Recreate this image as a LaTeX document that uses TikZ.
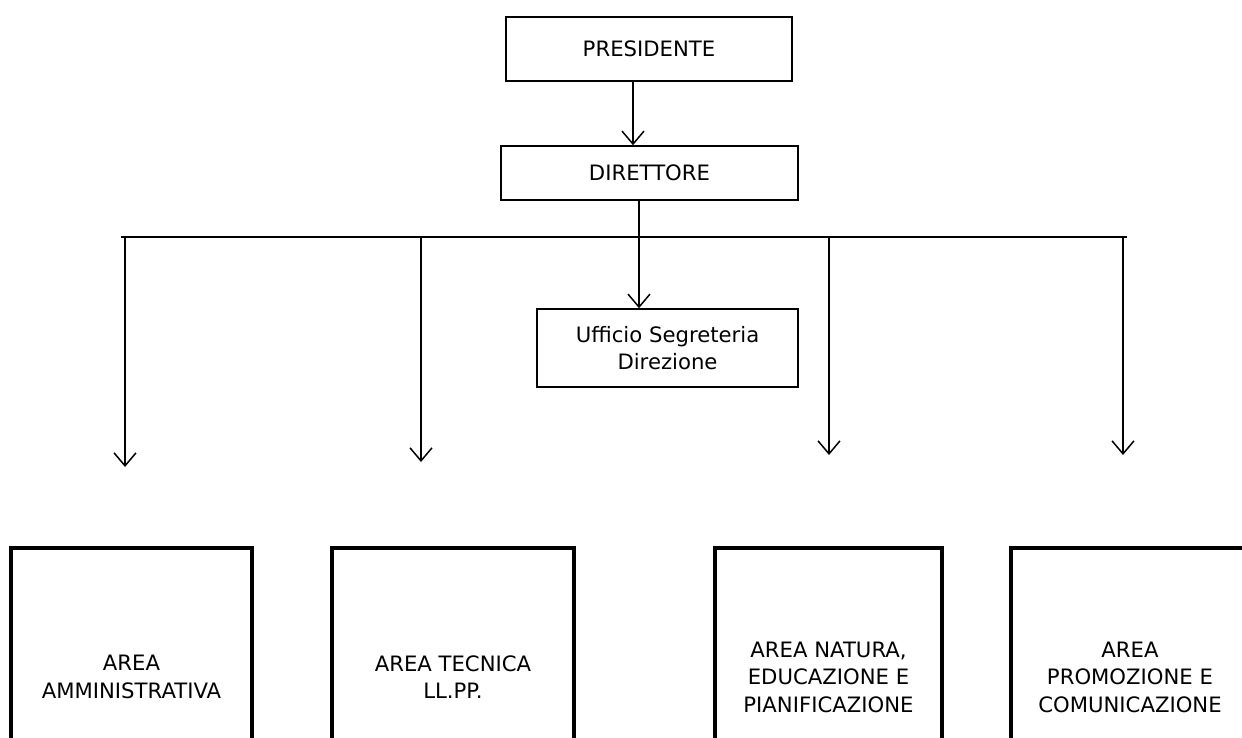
\documentclass[tikz,border=0pt]{standalone}
\usepackage{fontspec}
\setmainfont{DejaVu Sans}
\usetikzlibrary{arrows.meta,positioning}

\tikzset{
  ufficio/.style={draw, line width=1.5pt, align=center, inner sep=0pt},
  area/.style={draw, line width=4pt, align=center, inner sep=0pt, minimum height=258pt},
  freccia/.style={line width=1.5pt, -{Straight Barb[length=13pt,width=22pt]}},
  linea/.style={line width=1.5pt}
}

\begin{document}
\begin{tikzpicture}[x=1pt,y=-1pt,font=\fontsize{21.2}{27.5}\selectfont]
\useasboundingbox (0,0) rectangle (1242,738);

% PRESIDENTE
\node[ufficio, minimum width=286pt, minimum height=64pt] (presidente) at (649,49) {PRESIDENTE};

% DIRETTORE
\node[ufficio, minimum width=297pt, minimum height=54pt] (direttore) at (649.5,173) {DIRETTORE};
\draw[freccia] ([xshift=-16pt]presidente.south) -- ([xshift=-16.5pt]direttore.north);

%% Horizontal bar
\coordinate (incrocio) at (639,237);
\coordinate (barsx) at (121,237);
\coordinate (bardx) at (1127,237);
\draw[linea] ([xshift=-10.5pt]direttore.south) -- (incrocio);
\draw[linea] (barsx) -- (bardx);

% Ufficio Segreteria
\node[ufficio, minimum width=261pt, minimum height=78pt] (segreteria) at (667.5,348) {Ufficio Segreteria\\Direzione};
\draw[freccia] (incrocio) -- (incrocio |- segreteria.north);

% drops towards the areas
\foreach \x/\y [count=\i] in {125/467, 421/462, 829/455, 1123/455} {
  \coordinate (cima\i) at (\x,237);
  \coordinate (punta\i) at (\x,\y);
  \draw[freccia] (cima\i) -- (punta\i);
}

% AREE
\node[area, minimum width=241pt] (amministrativa) at (131.5,677) {AREA\\AMMINISTRATIVA};
\node[area, minimum width=242pt] (tecnica) at (453,677) {AREA TECNICA\\LL.PP.};
\node[area, minimum width=227pt] (natura) at (828.5,677) {AREA NATURA,\\EDUCAZIONE E\\PIANIFICAZIONE};
\node[area, minimum width=238pt] (promozione) at (1130,677) {AREA\\PROMOZIONE E\\COMUNICAZIONE};
\end{tikzpicture}
\end{document}
